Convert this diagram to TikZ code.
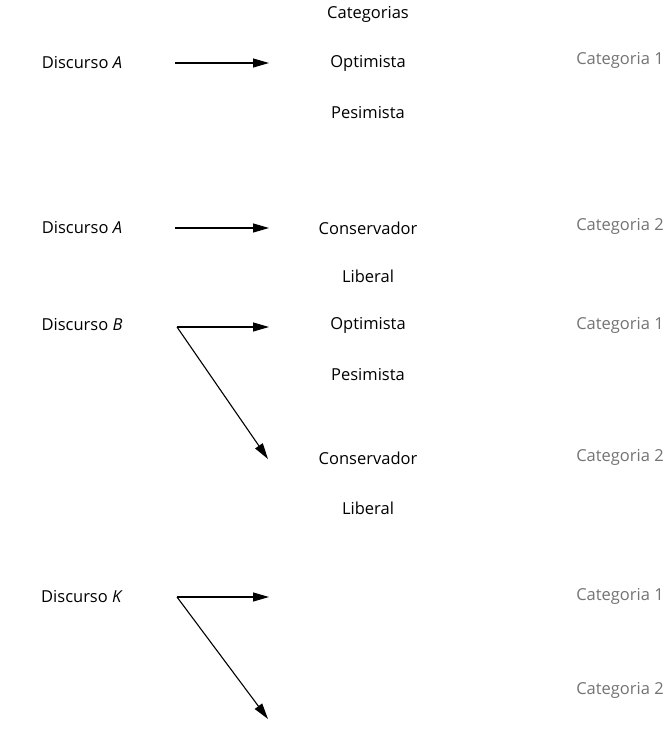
\documentclass[tikz,border=0pt]{standalone}
\usepackage{fontspec}
\setmainfont{Open Sans}
\usetikzlibrary{arrows.meta}
\begin{document}
\begin{tikzpicture}[x=1pt,y=-1pt,
  txt/.style={font=\fontsize{16.5}{19}\selectfont, inner sep=0pt},
  cat/.style={txt, text=black!55},
  arr/.style={line width=1.1pt, -{Triangle[length=16pt,width=9pt]}}]
\useasboundingbox (0,0) rectangle (669,731);
\node[txt] (hdr) at (368,14) {Categorias};
% row 1
\node[txt] (d1) at (82,63) {Discurso \textit{A}};
\coordinate (s1) at (175,63); \coordinate (e1) at (269,63);
\node[txt] (o1) at (368,63) {Optimista};
\node[cat] (c1) at (620,60) {Categoria 1};
\node[txt] (p1) at (368,113) {Pesimista};
\draw[arr] (s1) -- (e1);
% row 2
\node[txt] (d2) at (82,228) {Discurso \textit{A}};
\coordinate (s2) at (175,228); \coordinate (e2) at (269,228);
\node[txt] (k2) at (368,228) {Conservador};
\node[cat] (c2) at (620,226) {Categoria 2};
\node[txt] (l2) at (368,276) {Liberal};
\draw[arr] (s2) -- (e2);
% row 3
\node[txt] (d3) at (82,325) {Discurso \textit{B}};
\coordinate (s3) at (177,327); \coordinate (e3) at (269,327); \coordinate (f3) at (268,459);
\node[txt] (o3) at (368,325) {Optimista};
\node[cat] (c3) at (620,325) {Categoria 1};
\node[txt] (p3) at (368,375) {Pesimista};
\node[txt] (k3) at (368,458) {Conservador};
\node[cat] (c3b) at (620,457) {Categoria 2};
\node[txt] (l3) at (368,508) {Liberal};
\draw[arr] (s3) -- (e3);
\draw[arr] (s3) -- (f3);
% row 4
\node[txt] (d4) at (82,597) {Discurso \textit{K}};
\coordinate (s4) at (177,597); \coordinate (e4) at (269,597); \coordinate (f4) at (268,719);
\node[cat] (c4) at (620,596) {Categoria 1};
\node[cat] (c4b) at (620,690) {Categoria 2};
\draw[arr] (s4) -- (e4);
\draw[arr] (s4) -- (f4);
\end{tikzpicture}
\end{document}
